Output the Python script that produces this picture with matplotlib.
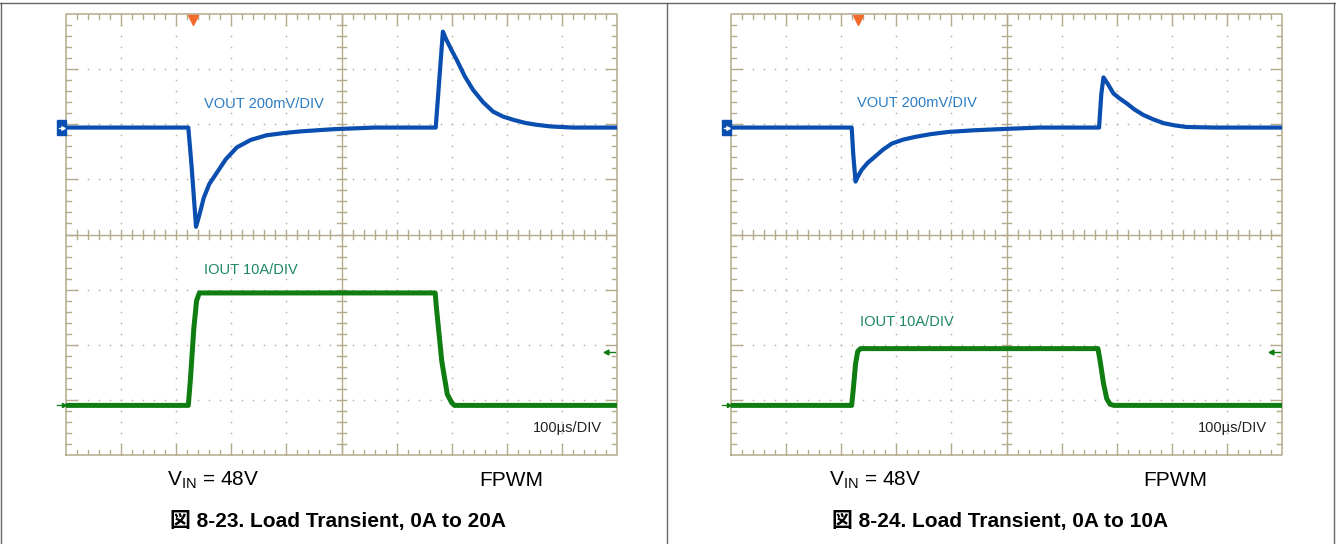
import numpy as np
import matplotlib
matplotlib.use('Agg')
import matplotlib.pyplot as plt
from matplotlib.lines import Line2D

plt.rcParams['font.family'] = ['Liberation Sans', 'Noto Sans CJK JP', 'DejaVu Sans']
plt.rcParams['mathtext.fontset'] = 'custom'
plt.rcParams['mathtext.rm'] = 'Liberation Sans'
plt.rcParams['mathtext.it'] = 'Liberation Sans:italic'

# ---- data (time in us, VOUT deviation in mV, IOUT in A)
t_vout_20 = [0, 222, 228, 236, 243, 250, 260, 273, 290, 310, 335, 364, 395, 425, 485, 560,
             671, 684, 690, 700, 709, 724, 739, 757, 775, 793, 812, 833, 854, 880, 920, 1000]
vout_20 = [0, 0, -142, -360, -310, -255, -205, -166, -115, -72, -45, -28, -20, -14, -6, 0,
           0, 348, 320, 280, 246, 185, 136, 92, 58, 40, 28, 17, 10, 4, 0, 0]
t_iout_20 = [0, 222, 226, 232, 237, 242, 670, 672, 682, 692, 700, 705, 1000]
iout_20 = [0, 0, 5, 14, 19, 20.4, 20.4, 18, 8, 2, 0.5, 0, 0]

t_vout_10 = [0, 219, 222, 226, 231, 237, 248, 261, 276, 292, 312, 334, 362, 394, 440, 485, 560,
             668, 672, 676, 684, 694, 705, 718, 732, 748, 766, 785, 805, 827, 880, 1000]
vout_10 = [0, 0, -100, -196, -175, -154, -128, -106, -80, -58, -44, -34, -24, -16, -10, -6, 0,
           0, 120, 182, 158, 124, 106, 88, 66, 46, 30, 16, 8, 2, 0, 0]
t_iout_10 = [0, 219, 222, 226, 230, 235, 666, 670, 676, 682, 688, 695, 1000]
iout_10 = [0, 0, 3, 7.5, 9.8, 10.3, 10.3, 8, 4, 1.2, 0.2, 0, 0]

captions = ["図 8-23. Load Transient, 0A to 20A", "図 8-24. Load Transient, 0A to 10A"]

# scope settings
US_PER_DIV = 100.0
MV_PER_DIV = 200.0
A_PER_DIV = 10.0
VOUT_REF = 5.94   # channel 1 ground marker (div)
IOUT_REF = 0.9    # channel 2 ground marker (div)

GRID_C = '#b3ab8c'
DOT_C = '#bdb8a4'
BLUE = '#0a4eb0'
GREEN = '#0f7d12'

W, H = 1336, 544
fig = plt.figure(figsize=(W / 100, H / 100), dpi=100)
fig.patch.set_facecolor('white')


def draw_graticule(ax):
    ax.set_xlim(0, 10)
    ax.set_ylim(0, 8)
    ax.axis('off')
    # dotted division lines
    sx = np.arange(0, 10.01, 0.2)
    sy = np.arange(0, 8.01, 0.2)
    for i in range(1, 10):
        if i != 5:
            ax.scatter(np.full(sy.size, i), sy, s=1.6, color=DOT_C, lw=0, zorder=1)
    for j in range(1, 8):
        if j != 4:
            ax.scatter(sx, np.full(sx.size, j), s=1.6, color=DOT_C, lw=0, zorder=1)
    # frame
    ax.plot([0, 10, 10, 0, 0], [0, 0, 8, 8, 0], color=GRID_C, lw=1.1, zorder=2, clip_on=False)
    # centre cross
    ax.plot([5, 5], [0, 8], color=GRID_C, lw=1.0, zorder=2)
    ax.plot([0, 10], [4, 4], color=GRID_C, lw=1.0, zorder=2)
    minor = 0.09
    major = 0.2
    for x in sx[1:-1]:
        on_div = abs(x - round(x)) < 1e-6
        ln = major if on_div else minor
        ax.plot([x, x], [8, 8 - ln], color=GRID_C, lw=1.0, zorder=2)
        ax.plot([x, x], [0, ln], color=GRID_C, lw=1.0, zorder=2)
        ax.plot([x, x], [4 - minor, 4 + minor], color=GRID_C, lw=1.0, zorder=2)
    for y in sy[1:-1]:
        on_div = abs(y - round(y)) < 1e-6
        ln = major if on_div else minor
        ax.plot([0, ln], [y, y], color=GRID_C, lw=1.0, zorder=2)
        ax.plot([10, 10 - ln], [y, y], color=GRID_C, lw=1.0, zorder=2)
        ax.plot([5 - minor, 5 + minor], [y, y], color=GRID_C, lw=1.0, zorder=2)


def draw_panel(ax, tv, vv, ti, ii, trig_x, vlab_xy, ilab_xy):
    draw_graticule(ax)
    xv = np.array(tv) / US_PER_DIV
    yv = VOUT_REF + np.array(vv) / MV_PER_DIV
    xi = np.array(ti) / US_PER_DIV
    yi = IOUT_REF + np.array(ii) / A_PER_DIV
    ax.plot(xv, yv, color=BLUE, lw=3.0, solid_joinstyle='round', zorder=4)
    ax.plot(xi, yi, color=GREEN, lw=3.6, solid_joinstyle='round', zorder=4)

    ax.text(vlab_xy[0], vlab_xy[1], 'VOUT 200mV/DIV', color='#2a7cc4', fontsize=10.5,
            ha='left', va='center', zorder=5)
    ax.text(ilab_xy[0], ilab_xy[1], 'IOUT 10A/DIV', color='#1b8763', fontsize=10.5,
            ha='left', va='center', zorder=5)
    ax.text(9.73, 0.49, '100\u00b5s/DIV', color='#222222', fontsize=10.5,
            ha='right', va='center', zorder=5)

    # trigger marker
    ax.plot([trig_x], [7.9], marker='v', color='#f26a2c', markersize=7, clip_on=False, zorder=6)
    # channel 1 marker
    ax.add_patch(plt.Rectangle((-0.17, VOUT_REF - 0.13), 0.17, 0.26, color=BLUE,
                               clip_on=False, zorder=6))
    ax.plot([-0.13, -0.05], [VOUT_REF, VOUT_REF], color='white', lw=0.9, clip_on=False, zorder=7)
    ax.plot([-0.05], [VOUT_REF], marker='>', color='white', markersize=2.5, clip_on=False, zorder=7)
    # channel 2 marker
    ax.plot([-0.16, -0.03], [IOUT_REF, IOUT_REF], color=GREEN, lw=0.9, clip_on=False, zorder=7)
    ax.plot([-0.03], [IOUT_REF], marker='>', color=GREEN, markersize=3, clip_on=False, zorder=7)
    # trigger level arrow on the right
    ax.plot([9.8, 9.96], [1.87, 1.87], color=GREEN, lw=1.0, zorder=7)
    ax.plot([9.8], [1.87], marker='<', color=GREEN, markersize=3.5, zorder=7)


ax_l = fig.add_axes([66 / W, 1 - 455 / H, 551 / W, 441 / H])
ax_r = fig.add_axes([731 / W, 1 - 455 / H, 551 / W, 441 / H])

draw_panel(ax_l, t_vout_20, vout_20, t_iout_20, iout_20, 2.30, (2.5, 6.37), (2.5, 3.35))
draw_panel(ax_r, t_vout_10, vout_10, t_iout_10, iout_10, 2.31, (2.29, 6.38), (2.34, 2.42))

# captions under each shot
for cx, vx, fx, cap in [(338, 167, 511, captions[0]), (1000, 829, 1175, captions[1])]:
    fig.text(vx / W, 1 - 480 / H, r'V$_{\mathrm{IN}}$ = 48V', fontsize=15, ha='left', va='center')
    fig.text(fx / W, 1 - 480 / H, 'FPWM', fontsize=15, ha='center', va='center')
    fig.text(cx / W, 1 - 521 / H, cap, fontsize=15, fontweight='bold', ha='center', va='center')

# outer frame lines
for x0, y0, x1, y1 in [(0, 3, W, 3), (1, 3, 1, H), (667, 3, 667, H), (1334, 3, 1334, H)]:
    fig.add_artist(Line2D([x0 / W, x1 / W], [1 - y0 / H, 1 - y1 / H],
                          color='#666666', lw=1.0, transform=fig.transFigure))

fig.savefig('out.png', dpi=100, facecolor='white')
